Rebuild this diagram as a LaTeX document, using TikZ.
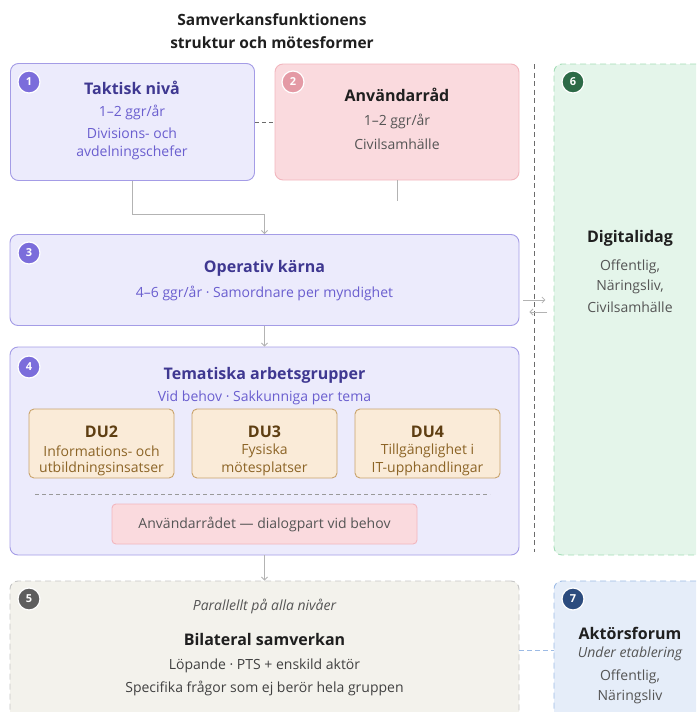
\documentclass[tikz,border=0pt]{standalone}
\usepackage{fontspec}
\setmainfont{Open Sans}
\usetikzlibrary{arrows.meta}

\definecolor{lilacfill}{HTML}{ECEBFC}
\definecolor{lilacline}{HTML}{A49CE6}
\definecolor{lilacdark}{HTML}{3F3891}
\definecolor{lilactext}{HTML}{6A5ECF}
\definecolor{lilacbadge}{HTML}{7B6DDB}
\definecolor{rosefill}{HTML}{FADADE}
\definecolor{roseline}{HTML}{F2B6BE}
\definecolor{rosebadge}{HTML}{E49AA5}
\definecolor{dufill}{HTML}{FAEBD8}
\definecolor{duline}{HTML}{C9A36C}
\definecolor{dudark}{HTML}{5E3E12}
\definecolor{dutext}{HTML}{8C6426}
\definecolor{greyfill}{HTML}{F3F2EC}
\definecolor{greyline}{HTML}{C6C6C6}
\definecolor{greybadge}{HTML}{5E5E5E}
\definecolor{greenfill}{HTML}{E4F5EA}
\definecolor{greenline}{HTML}{A3DCB6}
\definecolor{greenbadge}{HTML}{2D6A47}
\definecolor{bluefill}{HTML}{E5EDF9}
\definecolor{blueline}{HTML}{9DBBE5}
\definecolor{bluebadge}{HTML}{2C4C7E}
\definecolor{linkgrey}{HTML}{B3B3B3}
\definecolor{sepgrey}{HTML}{6B6B6B}
\definecolor{inkgrey}{HTML}{555555}
\definecolor{ink}{HTML}{1F1F1F}

\tikzset{
  panel/.style={rectangle, rounded corners=8pt, line width=0.9pt, inner sep=0pt},
  dashpanel/.style={panel, dash pattern=on 6pt off 4pt},
  badge/.style={circle, fill=#1, draw=white, line width=1.2pt, minimum size=22pt,
    inner sep=0pt, text=white, font=\fontsize{11}{11}\selectfont\bfseries},
  head/.style={font=\fontsize{16}{18}\selectfont\bfseries, inner sep=0pt},
  body/.style={font=\fontsize{14}{16}\selectfont, inner sep=0pt},
  link/.style={draw=linkgrey, line width=0.8pt},
  arrow/.style={link, -{Straight Barb[length=3pt,width=6pt]}},
}

\begin{document}
\begin{tikzpicture}[x=1pt, y=-1pt]
  \useasboundingbox (0,0) rectangle (696,712);
  \clip (0,0) rectangle (696,712);

  % Title
  \node[head, text=ink, font=\fontsize{15.5}{18}\selectfont\bfseries] (rubrik1) at (272,20) {Samverkansfunktionens};
  \node[head, text=ink, font=\fontsize{15.5}{18}\selectfont\bfseries] (rubrik2) at (272,43) {struktur och mötesformer};

  % Panels
  \node[panel, draw=lilacline, fill=lilacfill, minimum width=244pt, minimum height=117pt] (taktisk) at (132.5,122) {};
  \node[panel, draw=roseline, fill=rosefill, minimum width=244pt, minimum height=116pt] (anvrad) at (397,122) {};
  \node[panel, draw=lilacline, fill=lilacfill, minimum width=509pt, minimum height=91pt] (operativ) at (264.5,280) {};
  \node[panel, draw=lilacline, fill=lilacfill, minimum width=509pt, minimum height=208pt] (tematiska) at (264.5,451) {};
  \node[dashpanel, draw=greyline, fill=greyfill, minimum width=509pt, minimum height=170pt] (bilateral) at (264.5,666) {};
  \node[dashpanel, draw=greenline, fill=greenfill, minimum width=170pt, minimum height=491pt] (digital) at (639,309.5) {};
  \node[dashpanel, draw=blueline, fill=bluefill, minimum width=170pt, minimum height=170pt] (aktor) at (639,666) {};

  % Separator
  \draw[sepgrey, line width=0.9pt, dash pattern=on 5pt off 3.5pt] (534,64) -- (534,552);

  % Box texts
  \node[head, text=lilacdark] (taktisk-rubrik) at (132,88) {Taktisk nivå};
  \foreach \y/\t [count=\i] in {112/{1–2 ggr/år}, 133/{Divisions- och}, 153/{avdelningschefer}}
    \node[body, text=lilactext] (taktisk-\i) at (132,\y) {\t};

  \node[head, text=ink] (anvrad-rubrik) at (397,95) {Användarråd};
  \foreach \y/\t [count=\i] in {121/{1–2 ggr/år}, 144/{Civilsamhälle}}
    \node[body, text=inkgrey] (anvrad-\i) at (397,\y) {\t};

  \node[head, text=lilacdark] (operativ-rubrik) at (264.5,268) {Operativ kärna};
  \node[body, text=lilactext] (operativ-1) at (264.5,293) {4–6 ggr/år · Samordnare per myndighet};

  \node[head, text=lilacdark] (tematiska-rubrik) at (264.5,375) {Tematiska arbetsgrupper};
  \node[body, text=lilactext] (tematiska-1) at (264.5,398) {Vid behov · Sakkunniga per tema};

  % Delutredningar
  \foreach \id/\x/\a/\b in {DU2/101.5/{Informations- och}/{utbildningsinsatser},
                            DU3/264.5/{Fysiska}/{mötesplatser},
                            DU4/427.5/{Tillgänglighet i}/{IT-upphandlingar}} {
    \node[panel, rounded corners=5pt, draw=duline, fill=dufill, minimum width=145pt, minimum height=69pt] (\id) at (\x,443.5) {};
    \node[head, text=dudark] (\id-rubrik) at (\x,432) {\id};
    \node[body, text=dutext] (\id-1) at (\x,451) {\a};
    \node[body, text=dutext] (\id-2) at (\x,469) {\b};
  }
  \draw[draw=gray!80, line width=0.8pt, dash pattern=on 4pt off 3pt] (35,494) -- (490,494);
  \node[panel, rounded corners=4pt, draw=roseline, fill=rosefill, minimum width=305pt, minimum height=40pt,
        text=inkgrey, font=\fontsize{14}{16}\selectfont] (dialog) at (264.5,524) {Användarrådet — dialogpart vid behov};

  \node[body, text=inkgrey, font=\fontsize{14}{16}\selectfont\itshape] (bilateral-0) at (264.5,606) {Parallellt på alla nivåer};
  \node[head, text=ink] (bilateral-rubrik) at (264.5,639) {Bilateral samverkan};
  \foreach \y/\t [count=\i] in {666/{Löpande · PTS + enskild aktör}, 688/{Specifika frågor som ej berör hela gruppen}}
    \node[body, text=ink!85] (bilateral-\i) at (264.5,\y) {\t};

  \node[head, text=ink] (digital-rubrik) at (630,238) {Digitalidag};
  \foreach \y/\t [count=\i] in {267/{Offentlig,}, 287/{Näringsliv,}, 307/{Civilsamhälle}}
    \node[body, text=inkgrey] (digital-\i) at (630,\y) {\t};

  \node[head, text=ink] (aktor-rubrik) at (630,633) {Aktörsforum};
  \node[body, text=inkgrey, font=\fontsize{14}{16}\selectfont\itshape] (aktor-0) at (630,654) {Under etablering};
  \foreach \y/\t [count=\i] in {677/{Offentlig,}, 697/{Näringsliv}}
    \node[body, text=inkgrey] (aktor-\i) at (630,\y) {\t};

  % Edges
  \coordinate (anvstub) at (397,201);
  \draw[link, draw=sepgrey, dash pattern=on 4pt off 3pt] (taktisk.east) -- (anvrad.west);
  \draw[link] (anvrad.south) -- (anvstub);
  \draw[arrow] (taktisk.south) -- ++(0,33) -| (operativ.north);
  \draw[arrow] (operativ.south) -- (tematiska.north);
  \draw[arrow] (tematiska.south) -- (bilateral.north);
  \draw[arrow] ([xshift=4pt,yshift=-20pt]operativ.east) -- ++(22,0);
  \draw[arrow] ([xshift=28pt,yshift=-32pt]operativ.east) -- ++(-18,0);
  \draw[blueline, line width=0.9pt, dash pattern=on 5pt off 3pt] ([yshift=16pt]bilateral.east) -- ([yshift=16pt]aktor.west);

  % Badges
  \foreach \n/\x/\y/\c in {1/29/82/lilacbadge, 2/293/82/rosebadge, 3/29/253/lilacbadge, 4/29/367/lilacbadge,
                           5/29/599/greybadge, 6/573/82/greenbadge, 7/573/599/bluebadge}
    \node[badge=\c] (nr\n) at (\x,\y) {\n};
\end{tikzpicture}
\end{document}
